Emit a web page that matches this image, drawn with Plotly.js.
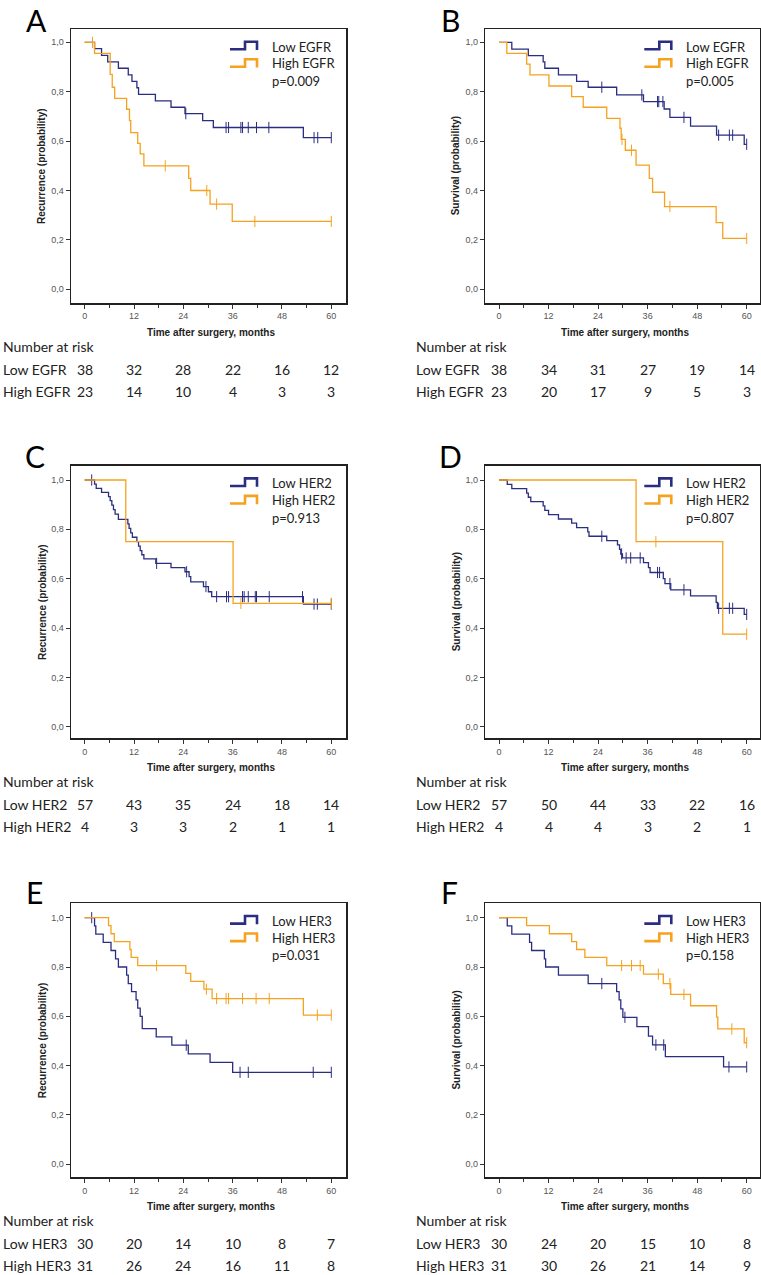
<!DOCTYPE html>
<html>
<head>
<meta charset="utf-8">
<script src="https://cdn.plot.ly/plotly-3.0.1.min.js"></script>
<style>html,body{margin:0;padding:0;background:#fff;}#chart{width:761px;height:1275px;}</style>
</head>
<body>
<div id="chart"></div>
<script>
// ---------- DATA ----------
const months = [0, 12, 24, 36, 48, 60];

// Panel A: EGFR, recurrence
const A_low_t  = [2.4, 4.1, 5.6, 8.2, 10.6, 11.5, 12.7, 13.1, 17.2, 21.0, 24.4, 28.7, 31.3, 53.2];
const A_low_s  = [0.974, 0.947, 0.921, 0.895, 0.868, 0.842, 0.816, 0.789, 0.763, 0.737, 0.711, 0.683, 0.655, 0.614];
const A_low_c  = [24.6, 34.4, 35.0, 38.0, 38.4, 39.8, 41.8, 44.8, 55.8, 56.7, 60];
const A_high_t = [2.4, 6.2, 6.7, 7.3, 10.2, 10.9, 11.2, 12.9, 13.5, 14.4, 25.3, 25.8, 30.5, 35.9];
const A_high_s = [0.955, 0.87, 0.818, 0.773, 0.729, 0.683, 0.634, 0.591, 0.548, 0.50, 0.449, 0.40, 0.345, 0.275];
const A_high_c = [1.9, 19.6, 29.7, 32.1, 41.4, 60];
const A_risk_low  = [38, 32, 28, 22, 16, 12];
const A_risk_high = [23, 14, 10, 4, 3, 3];

// Panel B: EGFR, survival
const B_low_t  = [3.1, 7.1, 10.7, 11.1, 14.4, 18.8, 21.6, 28.5, 35.0, 40.0, 41.4, 46.4, 52.7, 59.4];
const B_low_s  = [0.972, 0.946, 0.921, 0.895, 0.868, 0.842, 0.818, 0.787, 0.760, 0.730, 0.696, 0.661, 0.624, 0.587];
const B_low_c  = [24.9, 34.6, 38.4, 38.7, 39.7, 44.8, 53.2, 55.8, 56.6, 60];
const B_high_t = [1.9, 6.7, 7.5, 12.1, 17.6, 20.4, 26.1, 29.3, 29.6, 30.6, 33.2, 36.4, 37.2, 40.1, 52.6, 54.2];
const B_high_s = [0.955, 0.912, 0.868, 0.823, 0.780, 0.737, 0.692, 0.652, 0.607, 0.563, 0.503, 0.449, 0.393, 0.335, 0.270, 0.206];
const B_high_c = [29.8, 32.1, 41.4, 60];
const B_risk_low  = [38, 34, 31, 27, 19, 14];
const B_risk_high = [23, 20, 17, 9, 5, 3];

// Panel C: HER2, recurrence
const C_low_t  = [2.4, 2.8, 4.1, 5.8, 6.2, 6.6, 7.0, 7.4, 8.2, 10.5, 10.8, 11.2, 11.6, 12.7, 13.1, 13.5, 13.9, 14.4, 17.3, 21.0, 24.4, 25.4, 25.8, 28.9, 30.1, 30.9, 53.2];
const C_low_s  = [0.983, 0.966, 0.95, 0.933, 0.916, 0.898, 0.88, 0.862, 0.84, 0.822, 0.804, 0.786, 0.768, 0.75, 0.732, 0.714, 0.697, 0.68, 0.662, 0.645, 0.628, 0.608, 0.587, 0.568, 0.547, 0.527, 0.497];
const C_low_c  = [1.7, 17.5, 24.8, 29.5, 32.1, 34.5, 35.0, 38.4, 38.8, 39.8, 41.5, 41.8, 44.9, 53.0, 55.8, 56.6, 60];
const C_high_t = [10.0, 36.1];
const C_high_s = [0.75, 0.50];
const C_high_c = [38.0, 60];
const C_risk_low  = [57, 43, 35, 24, 18, 14];
const C_risk_high = [4, 3, 3, 2, 1, 1];

// Panel D: HER2, survival
const D_low_t  = [2.0, 3.1, 6.7, 7.1, 7.7, 10.7, 11.1, 12.0, 14.4, 17.6, 18.8, 21.5, 21.8, 26.1, 28.7, 29.2, 29.5, 29.9, 35.0, 36.2, 36.6, 39.8, 40.2, 41.6, 46.4, 52.6, 52.9, 59.4];
const D_low_s  = [0.982, 0.965, 0.947, 0.93, 0.912, 0.895, 0.877, 0.86, 0.842, 0.825, 0.807, 0.79, 0.772, 0.754, 0.737, 0.719, 0.70, 0.684, 0.665, 0.645, 0.625, 0.60, 0.58, 0.555, 0.53, 0.504, 0.48, 0.455];
const D_low_c  = [24.9, 29.7, 30.8, 31.9, 34.2, 38.4, 38.9, 41.4, 44.8, 53.2, 55.8, 56.6, 60];
const D_high_t = [33.2, 54.2];
const D_high_s = [0.75, 0.375];
const D_high_c = [38.0, 60];
const D_risk_low  = [57, 50, 44, 33, 22, 16];
const D_risk_high = [4, 4, 4, 3, 2, 1];

// Panel E: HER3, recurrence
const E_low_t  = [2.4, 2.7, 4.5, 6.4, 7.5, 8.2, 10.2, 10.6, 11.4, 12.5, 12.9, 13.5, 14.0, 17.4, 21.2, 25.2, 30.5, 36.0];
const E_low_s  = [0.967, 0.933, 0.90, 0.867, 0.833, 0.80, 0.767, 0.733, 0.70, 0.667, 0.633, 0.60, 0.55, 0.517, 0.483, 0.448, 0.413, 0.373];
const E_low_c  = [1.7, 24.7, 37.8, 39.8, 55.6, 60];
const E_high_t = [5.8, 6.4, 7.2, 11.0, 11.3, 12.9, 24.6, 25.8, 29.0, 31.0, 53.2];
const E_high_s = [0.968, 0.935, 0.903, 0.871, 0.839, 0.806, 0.774, 0.742, 0.71, 0.672, 0.605];
const E_high_c = [17.5, 29.6, 32.1, 34.4, 35.0, 38.4, 41.7, 44.9, 56.6, 60];
const E_risk_low  = [30, 20, 14, 10, 8, 7];
const E_risk_high = [31, 26, 24, 16, 11, 8];

// Panel F: HER3, survival
const F_low_t  = [2.0, 3.1, 7.4, 7.9, 11.0, 11.3, 14.4, 21.6, 28.5, 29.1, 29.5, 30.0, 33.4, 36.2, 37.2, 40.3, 54.4];
const F_low_s  = [0.967, 0.933, 0.90, 0.867, 0.833, 0.80, 0.767, 0.733, 0.70, 0.667, 0.63, 0.596, 0.558, 0.52, 0.484, 0.437, 0.395];
const F_low_c  = [24.9, 30.5, 38.0, 39.9, 55.7, 60];
const F_high_t = [6.7, 12.2, 17.6, 18.8, 20.8, 26.1, 35.0, 39.8, 41.6, 46.4, 52.7, 53.0, 59.4];
const F_high_s = [0.968, 0.935, 0.903, 0.871, 0.839, 0.806, 0.771, 0.733, 0.689, 0.643, 0.597, 0.549, 0.493];
const F_high_c = [29.7, 32.1, 34.2, 38.6, 41.4, 44.8, 56.4, 60];
const F_risk_low  = [30, 24, 20, 15, 10, 8];
const F_risk_high = [31, 30, 26, 21, 14, 9];

const letters = ['A', 'B', 'C', 'D', 'E', 'F'];
const yTitles = ['Recurrence (probability)', 'Survival (probability)', 'Recurrence (probability)', 'Survival (probability)', 'Recurrence (probability)', 'Survival (probability)'];
const markers = ['EGFR', 'EGFR', 'HER2', 'HER2', 'HER3', 'HER3'];
const pValues = ['p=0.009', 'p=0.005', 'p=0.913', 'p=0.807', 'p=0.031', 'p=0.158'];
const xTitle = 'Time after surgery, months';
const riskTitle = 'Number at risk';

// ---------- STYLE / LAYOUT ----------
const W = 761, H = 1275;
const BLUE = '#2b2d80', ORANGE = '#f6a21e';
const colBox = [[71, 346], [485.3, 760]];
const colZero = [[84.7, 331.3], [499, 746.7]];      // px of month 0 and 60
const rowBox = [[29, 303], [465.7, 738.3], [903.3, 1177.3]];
const rowZero = [[289.3, 42.3], [726.7, 480], [1164.3, 917.7]]; // px of 0.0 and 1.0
const riskLabelX = [1, 414];
const letterPos = [[36, 20], [450, 20], [35, 456], [450, 456], [34, 892], [449, 892]];

const data = [
  {lo: [A_low_t, A_low_s, A_low_c], hi: [A_high_t, A_high_s, A_high_c], risk: [A_risk_low, A_risk_high]},
  {lo: [B_low_t, B_low_s, B_low_c], hi: [B_high_t, B_high_s, B_high_c], risk: [B_risk_low, B_risk_high]},
  {lo: [C_low_t, C_low_s, C_low_c], hi: [C_high_t, C_high_s, C_high_c], risk: [C_risk_low, C_risk_high]},
  {lo: [D_low_t, D_low_s, D_low_c], hi: [D_high_t, D_high_s, D_high_c], risk: [D_risk_low, D_risk_high]},
  {lo: [E_low_t, E_low_s, E_low_c], hi: [E_high_t, E_high_s, E_high_c], risk: [E_risk_low, E_risk_high]},
  {lo: [F_low_t, F_low_s, F_low_c], hi: [F_high_t, F_high_s, F_high_c], risk: [F_risk_low, F_risk_high]}
];

const px = p => p / W;
const py = p => 1 - p / H;

function stepAt(t, s, x) {
  let v = 1;
  for (let i = 0; i < t.length; i++) { if (t[i] <= x) v = s[i]; }
  return v;
}

const traces = [];
const annotations = [];
const shapes = [];
const layout = {
  width: W, height: H,
  margin: {l: 0, r: 0, t: 0, b: 0},
  paper_bgcolor: '#fff', plot_bgcolor: '#fff',
  showlegend: false,
  separators: ',.',
  font: {family: 'Liberation Sans, Arial, sans-serif', color: '#222'},
  annotations: annotations,
  shapes: shapes
};

const TXT = 'Lato, "Open Sans", sans-serif';

for (let i = 0; i < 6; i++) {
  const col = i % 2, row = Math.floor(i / 2);
  const [L, R] = colBox[col];
  const [T, B] = rowBox[row];
  const [x0, x60] = colZero[col];
  const k = (x60 - x0) / 60;
  const [z0, z1] = rowZero[row];
  const ky = z0 - z1;
  const ax = i === 0 ? '' : String(i + 1);
  const xa = 'x' + ax, ya = 'y' + ax;

  layout['xaxis' + ax] = {
    domain: [px(L), px(R)], anchor: ya,
    range: [(L - x0) / k, (R - x0) / k],
    tickmode: 'array', tickvals: months, ticktext: months.map(String),
    ticks: 'outside', ticklen: 4, tickwidth: 1, tickcolor: '#333',
    minor: {dtick: 6, tick0: 0, ticks: 'outside', ticklen: 3, tickcolor: '#333', tickwidth: 1},
    showgrid: false, zeroline: false,
    showline: true, mirror: true, linecolor: '#222', linewidth: 1.5,
    tickfont: {family: 'Liberation Sans, Arial, sans-serif', size: 9, color: '#555'},
    fixedrange: true
  };
  layout['yaxis' + ax] = {
    domain: [py(B), py(T)], anchor: xa,
    range: [(z0 - B) / ky, (z0 - T) / ky],
    tick0: 0, dtick: 0.2, tickformat: '.1f',
    ticks: 'outside', ticklen: 4, tickwidth: 1, tickcolor: '#333',
    showgrid: false, zeroline: false,
    showline: true, mirror: true, linecolor: '#222', linewidth: 1.5,
    tickfont: {family: 'Liberation Sans, Arial, sans-serif', size: 9, color: '#555'},
    fixedrange: true
  };

  const d = data[i];
  [[d.lo, BLUE, 'Low ' + markers[i]], [d.hi, ORANGE, 'High ' + markers[i]]].forEach(([g, color, name]) => {
    const [t, s, c] = g;
    const end = Math.max(t[t.length - 1], c.length ? c[c.length - 1] : 0);
    traces.push({
      type: 'scatter', mode: 'lines', name: name, xaxis: xa, yaxis: ya,
      x: [0].concat(t, [end]), y: [1].concat(s, [s[s.length - 1]]),
      line: {shape: 'hv', color: color, width: 1.3}, hoverinfo: 'skip'
    });
    traces.push({
      type: 'scatter', mode: 'markers', name: name + ' censored', xaxis: xa, yaxis: ya,
      x: c, y: c.map(v => stepAt(t, s, v)),
      marker: {symbol: 'line-ns-open', size: 8, color: color, line: {color: color, width: 1}},
      hoverinfo: 'skip'
    });
  });

  // Legend icons (step glyphs) and text
  [[BLUE, 0], [ORANGE, 17.5]].forEach(([color, dy]) => {
    const a = L + 159, b = L + 174, c2 = L + 186;
    const yb = T + 20.3 + dy, yt = T + 12.7 + dy, ye = T + 21 + dy;
    shapes.push({
      type: 'path', xref: 'paper', yref: 'paper',
      path: `M ${px(a)},${py(yb)} L ${px(b)},${py(yb)} L ${px(b)},${py(yt)} L ${px(c2)},${py(yt)} L ${px(c2)},${py(ye)}`,
      line: {color: color, width: 2.6}
    });
  });
  const legTexts = ['Low ' + markers[i], 'High ' + markers[i], pValues[i]];
  [17.7, 34.3, 52].forEach((off, j) => {
    annotations.push({
      xref: 'paper', yref: 'paper', x: px(L + 199), y: py(T + off),
      xanchor: 'left', yanchor: 'middle', showarrow: false,
      text: legTexts[j], font: {family: TXT, size: 13, color: '#222'}
    });
  });

  // Panel letter
  annotations.push({
    xref: 'paper', yref: 'paper', x: px(letterPos[i][0]), y: py(letterPos[i][1]),
    xanchor: 'center', yanchor: 'middle', showarrow: false, borderpad: 0,
    text: letters[i], font: {family: TXT, size: 30, color: '#000'}
  });

  // Axis titles
  annotations.push({
    xref: 'paper', yref: 'paper', x: px((L + R) / 2 + 2), y: py(B + 29.5),
    xanchor: 'center', yanchor: 'middle', showarrow: false,
    text: '<b>' + xTitle + '</b>', font: {family: 'Liberation Sans, Arial, sans-serif', size: 10, color: '#222'}
  });
  annotations.push({
    xref: 'paper', yref: 'paper', x: px(L - 29), y: py((T + B) / 2),
    xanchor: 'center', yanchor: 'middle', showarrow: false, textangle: -90,
    text: '<b>' + yTitles[i] + '</b>', font: {family: 'Liberation Sans, Arial, sans-serif', size: 10, color: '#222'}
  });

  // Risk table
  annotations.push({
    xref: 'paper', yref: 'paper', x: px(riskLabelX[col]), y: py(B + 43),
    xanchor: 'left', yanchor: 'middle', showarrow: false,
    text: riskTitle, font: {family: TXT, size: 14, color: '#222'}
  });
  [['Low ' + markers[i], d.risk[0], 66], ['High ' + markers[i], d.risk[1], 88.5]].forEach(([lab, vals, off]) => {
    annotations.push({
      xref: 'paper', yref: 'paper', x: px(riskLabelX[col]), y: py(B + off),
      xanchor: 'left', yanchor: 'middle', showarrow: false,
      text: lab, font: {family: TXT, size: 14, color: '#222'}
    });
    vals.forEach((v, j) => {
      annotations.push({
        xref: xa, yref: 'paper', x: months[j], y: py(B + off),
        xanchor: 'center', yanchor: 'middle', showarrow: false,
        text: String(v), font: {family: TXT, size: 14, color: '#222'}
      });
    });
  });
}

Plotly.newPlot('chart', traces, layout, {staticPlot: true, displayModeBar: false});
</script>
</body>
</html>
